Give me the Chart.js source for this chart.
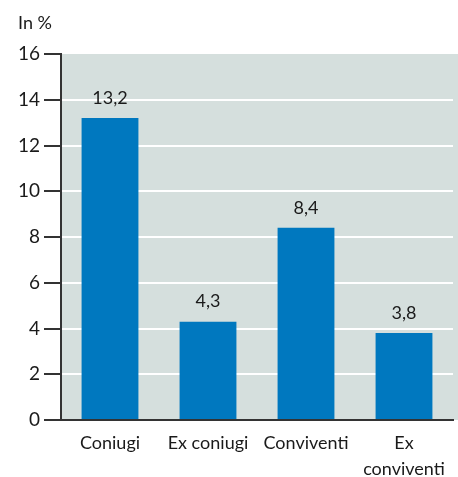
<!DOCTYPE html>
<html>
<head>
<meta charset="utf-8">
<script src="https://cdn.jsdelivr.net/npm/chart.js@4"></script>
<style>
  html, body { margin: 0; padding: 0; background: #fff; }
  #wrap { width: 458px; height: 477px; position: relative; }
</style>
</head>
<body>
<div id="wrap"><canvas id="chart" width="458" height="477"></canvas></div>
<script>
// Data
const categories = ['Coniugi', 'Ex coniugi', 'Conviventi', ['Ex', 'conviventi']];
const values = [13.2, 4.3, 8.4, 3.8];
const yTicks = [0, 2, 4, 6, 8, 10, 12, 14, 16];
const unitLabel = 'In %';

const FONT = 'Lato, "Open Sans", sans-serif';
const TEXT = '#1a1a1a';
const AXIS = '#333';

// plot background + unit label
const backgroundPlugin = {
    id: 'plotBackground',
    beforeDraw(chart) {
        const { ctx, chartArea } = chart;
        ctx.save();
        ctx.fillStyle = '#d5dfdd';
        ctx.fillRect(chartArea.left, chartArea.top, chartArea.right - chartArea.left + 10, chartArea.bottom - chartArea.top);
        ctx.fillStyle = TEXT;
        ctx.font = '18px ' + FONT;
        ctx.textBaseline = 'middle';
        ctx.textAlign = 'left';
        ctx.fillText(unitLabel, 18, 23);
        ctx.restore();
    }
};

// value labels above bars, with comma decimals
const valueLabels = {
    id: 'valueLabels',
    afterDatasetsDraw(chart) {
        const { ctx } = chart;
        const meta = chart.getDatasetMeta(0);
        ctx.save();
        ctx.fillStyle = TEXT;
        ctx.font = '18px ' + FONT;
        ctx.textAlign = 'center';
        ctx.textBaseline = 'bottom';
        meta.data.forEach(function(bar, i) {
            const txt = values[i].toFixed(1).replace('.', ',');
            ctx.fillText(txt, bar.x, bar.y - 11);
        });
        ctx.restore();
    }
};

new Chart(document.getElementById('chart').getContext('2d'), {
    type: 'bar',
    data: {
        labels: categories,
        datasets: [{
            data: values,
            backgroundColor: '#0078bf',
            borderWidth: 0,
            categoryPercentage: 1,
            barPercentage: 0.58
        }]
    },
    options: {
        responsive: false,
        animation: false,
        layout: { padding: { top: 54, right: 5, left: 0, bottom: 0 } },
        plugins: {
            legend: { display: false },
            tooltip: { enabled: false }
        },
        scales: {
            x: {
                grid: { display: false, drawTicks: false },
                border: { color: AXIS, width: 2 },
                ticks: {
                    color: TEXT,
                    font: { family: FONT, size: 18, lineHeight: 1.4 },
                    padding: 11,
                    maxRotation: 0,
                    autoSkip: false
                },
                afterFit(scale) { scale.height = 57; }
            },
            y: {
                min: 0,
                max: 16,
                afterBuildTicks(scale) {
                    scale.ticks = yTicks.map(function(v) { return { value: v }; });
                },
                grid: {
                    color(ctx) {
                        const v = ctx.tick && ctx.tick.value;
                        return (v > 0 && v < 16) ? '#ffffff' : 'rgba(0,0,0,0)';
                    },
                    lineWidth: 2,
                    tickColor: AXIS,
                    tickLength: 17,
                    drawTicks: true
                },
                border: { color: AXIS, width: 2 },
                ticks: {
                    color: TEXT,
                    font: { family: FONT, size: 19 },
                    padding: 4
                },
                afterFit(scale) { scale.width = 61; }
            }
        }
    },
    plugins: [backgroundPlugin, valueLabels]
});
</script>
</body>
</html>
